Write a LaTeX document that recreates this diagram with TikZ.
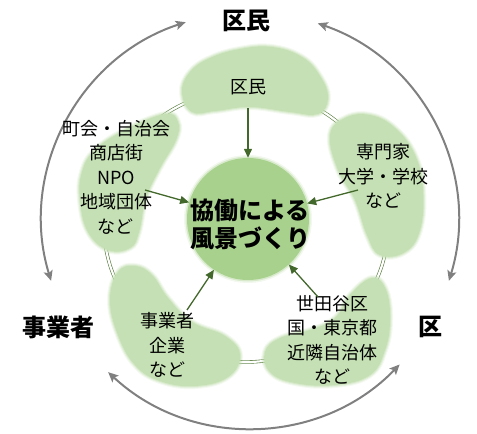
\documentclass[tikz,border=0pt]{standalone}
\usepackage{fontspec}
\setmainfont{Noto Sans CJK JP}
\usetikzlibrary{arrows.meta}
\definecolor{blobc}{HTML}{C5E0B4}
\definecolor{centc}{HTML}{A9D18E}
\definecolor{arrg}{HTML}{43682B}
\definecolor{ringg}{HTML}{557A3A}
\definecolor{outg}{HTML}{808080}
\newcommand\softblob[1]{%
  \foreach \w/\o in {6/0.18,4/0.3,2/0.5}{%
    \draw[blobc, line width=\w pt, opacity=\o, line join=round] plot[smooth cycle, tension=0.7] coordinates {#1};}
  \fill[blobc] plot[smooth cycle, tension=0.7] coordinates {#1};}
\tikzset{
  lbl/.style={align=center, inner sep=0pt, font=\fontsize{18}{24.5}\selectfont},
  biglbl/.style={inner sep=0pt, font=\fontsize{24}{28}\bfseries\selectfont},
  garrow/.style={draw=arrg, line width=1.3pt, -{Triangle[length=9pt,width=8pt]}},
  outarrow/.style={draw=outg, line width=2pt, {Stealth[length=10pt,width=9pt,inset=2pt]}-{Stealth[length=10pt,width=9pt,inset=2pt]}},
  ring/.style={draw=ringg, line width=0.6pt, double=white, double distance=2.2pt}
}
\begin{document}
\begin{tikzpicture}[x=1pt,y=-1pt]
\useasboundingbox (0,0) rectangle (477,434);
% outer arrows
\coordinate (oc) at (250,220);
\draw[outarrow] (oc) ++(-108:208) arc[start angle=-108, end angle=-197, radius=208];
\draw[outarrow] (oc) ++(-71:208) arc[start angle=-71, end angle=17, radius=208];
\draw[outarrow] (oc) ++(-227:208) arc[start angle=-227, end angle=-316, radius=208];
% ring
\draw[ring] (246,226) ellipse [x radius=142, y radius=136];
% blobs
\softblob{(182,92)(190,72)(210,58)(240,49)(272,47)(302,57)(320,76)(328,98)(318,114)(290,112)(250,107)(215,111)(192,112)}
\softblob{(165,114)(178,122)(176,140)(160,168)(146,198)(139,232)(130,248)(108,250)(88,232)(80,200)(82,172)(95,150)(125,130)}
\softblob{(330,135)(345,118)(370,115)(395,128)(415,155)(423,190)(420,230)(405,252)(380,255)(367,235)(355,200)(338,170)}
\softblob{(118,272)(135,266)(152,275)(168,298)(192,322)(225,336)(240,355)(228,377)(195,386)(160,381)(135,365)(118,335)(110,300)}
\softblob{(372,278)(386,290)(390,320)(385,350)(370,375)(335,385)(295,383)(270,372)(265,352)(280,338)(310,330)(335,318)(350,295)}
% center
\foreach \w/\o in {6/0.15,3/0.35}{\draw[centc, line width=\w pt, opacity=\o] (248,219) circle[radius=61];}
\node[circle, fill=centc, minimum size=122pt, inner sep=0pt] (cen) at (248,219) {};
\node[align=center, inner sep=0pt, font=\fontsize{24}{28}\bfseries\selectfont] (cent) at (250,224) {協働による\\風景づくり};
% labels
\node[lbl] (tmin) at (248,87) {区民};
\node[lbl] (tcho) at (116,177) {町会・自治会\\商店街\\NPO\\地域団体\\など};
\node[lbl] (tsen) at (383,176) {専門家\\大学・学校\\など};
\node[lbl] (tjig) at (167,345) {事業者\\企業\\など};
\node[lbl] (tset) at (332,340) {世田谷区\\国・東京都\\近隣自治体\\など};
\node[biglbl] (omin) at (246,21) {区民};
\node[biglbl] (ojig) at (59,327) {事業者};
\node[biglbl] (oku) at (430,327) {区};
% green arrows
\coordinate (a1) at (248,108);
\coordinate (a2) at (145,190);
\coordinate (a3) at (358,190);
\coordinate (a4) at (187,310);
\coordinate (a5) at (318,297);
\foreach \a in {a1,a2,a3,a4,a5}{\draw[garrow] (\a) -- (cen);}
\end{tikzpicture}
\end{document}
